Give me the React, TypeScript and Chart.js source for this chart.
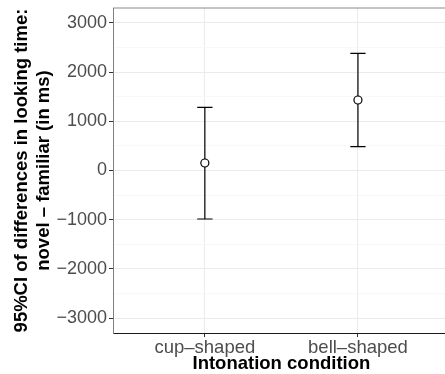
import React, { useEffect, useRef } from "react";
import { Chart, registerables } from "chart.js";

Chart.register(...registerables);

// ---- data ----
const categories = ["cup–shaped", "bell–shaped"];
const means = [153, 1434];
const lowerCI = [-986, 484];
const upperCI = [1285, 2384];
const yTickValues = [-3000, -2500, -2000, -1500, -1000, -500, 0, 500, 1000, 1500, 2000, 2500, 3000];
const yMin = -3305;
const yMax = 3305;
const xMin = 0.4;
const xMax = 2.6;
const capHalfWidth = 0.05;

const yTitleLines = ["95%CI of differences in looking time:", "novel – familiar (in ms)"];
const xTitle = "Intonation condition";

const FONT = "'Liberation Sans', Arial, Helvetica, sans-serif";

const isMajor = (v: number) => Math.abs(v % 1000) < 1e-9;
const fmt = (v: number) => (v < 0 ? "\u2212" + Math.abs(v) : String(v));

const errorBarPlugin = {
  id: "errorBars",
  beforeDatasetsDraw(chart: any) {
    const { ctx, chartArea, scales } = chart;
    const x = scales.x;
    const y = scales.y;
    ctx.save();
    // top panel border
    ctx.strokeStyle = "#8a8a8a";
    ctx.lineWidth = 1;
    ctx.beginPath();
    ctx.moveTo(chartArea.left, chartArea.top);
    ctx.lineTo(chartArea.right, chartArea.top);
    ctx.stroke();

    ctx.strokeStyle = "#000";
    ctx.lineWidth = 1.2;
    categories.forEach((_, i) => {
      const cx = x.getPixelForValue(i + 1);
      const xl = x.getPixelForValue(i + 1 - capHalfWidth);
      const xr = x.getPixelForValue(i + 1 + capHalfWidth);
      const yl = y.getPixelForValue(lowerCI[i]);
      const yu = y.getPixelForValue(upperCI[i]);
      ctx.beginPath();
      ctx.moveTo(cx, yl);
      ctx.lineTo(cx, yu);
      ctx.moveTo(xl, yl);
      ctx.lineTo(xr, yl);
      ctx.moveTo(xl, yu);
      ctx.lineTo(xr, yu);
      ctx.stroke();
    });
    ctx.restore();
  },
};

export default function App() {
  const ref = useRef<HTMLCanvasElement | null>(null);

  useEffect(() => {
    if (!ref.current) return;
    const chart = new Chart(ref.current, {
      type: "scatter",
      data: {
        datasets: [
          {
            data: means.map((m, i) => ({ x: i + 1, y: m })),
            pointRadius: 4,
            pointBackgroundColor: "#ffffff",
            pointBorderColor: "#000000",
            pointBorderWidth: 1.2,
            showLine: false,
          },
        ],
      },
      options: {
        responsive: false,
        animation: false,
        events: [],
        layout: { padding: { top: 8, right: 4, left: 0, bottom: 0 } },
        plugins: { legend: { display: false }, tooltip: { enabled: false } },
        scales: {
          x: {
            type: "linear",
            min: xMin,
            max: xMax,
            afterBuildTicks: (axis: any) => {
              axis.ticks = categories.map((_, i) => ({ value: i + 1 }));
            },
            afterFit: (s: any) => {
              s.height = 41;
              s.paddingLeft = 0;
              s.paddingRight = 0;
            },
            ticks: {
              autoSkip: false,
              maxRotation: 0,
              color: "#4D4D4D",
              font: { family: FONT, size: 18.5 },
              padding: 0,
              callback: (v: any) => categories[Math.round(v) - 1] ?? "",
            },
            grid: {
              color: "#EBEBEB",
              lineWidth: 1,
              tickColor: "#333333",
              tickLength: 4,
            },
            border: { color: "#1a1a1a", width: 1 },
            title: {
              display: true,
              text: xTitle,
              color: "#000",
              font: { family: FONT, size: 18.5, weight: "bold", lineHeight: 1.1 },
              padding: { top: 0, bottom: 0 },
            },
          },
          y: {
            type: "linear",
            min: yMin,
            max: yMax,
            afterBuildTicks: (axis: any) => {
              axis.ticks = yTickValues.map((v) => ({ value: v }));
            },
            afterFit: (s: any) => {
              s.width = 113;
              s.paddingTop = 0;
              s.paddingBottom = 0;
            },
            ticks: {
              autoSkip: false,
              color: "#4D4D4D",
              font: { family: FONT, size: 18 },
              padding: 2,
              callback: (v: any) => (isMajor(v) ? fmt(v) : ""),
            },
            grid: {
              color: (c: any) => (c.tick && isMajor(c.tick.value) ? "#EBEBEB" : "#F5F5F5"),
              lineWidth: (c: any) => (c.tick && isMajor(c.tick.value) ? 1 : 0.7),
              tickColor: (c: any) => (c.tick && isMajor(c.tick.value) ? "#333333" : "rgba(0,0,0,0)"),
              tickLength: 4,
            },
            border: { color: "#7f7f7f", width: 1 },
            title: {
              display: true,
              text: yTitleLines,
              color: "#000",
              font: { family: FONT, size: 18.5, weight: "bold", lineHeight: 1.2 },
              padding: { top: 10.5, bottom: 0 },
            },
          },
        },
      },
      plugins: [errorBarPlugin],
    } as any);
    return () => chart.destroy();
  }, []);

  return (
    <div style={{ position: "absolute", left: 0, top: 0, width: 445, height: 374, overflow: "hidden" }}>
      <canvas ref={ref} width={455} height={374} style={{ display: "block", width: 455, height: 374 }} />
    </div>
  );
}
